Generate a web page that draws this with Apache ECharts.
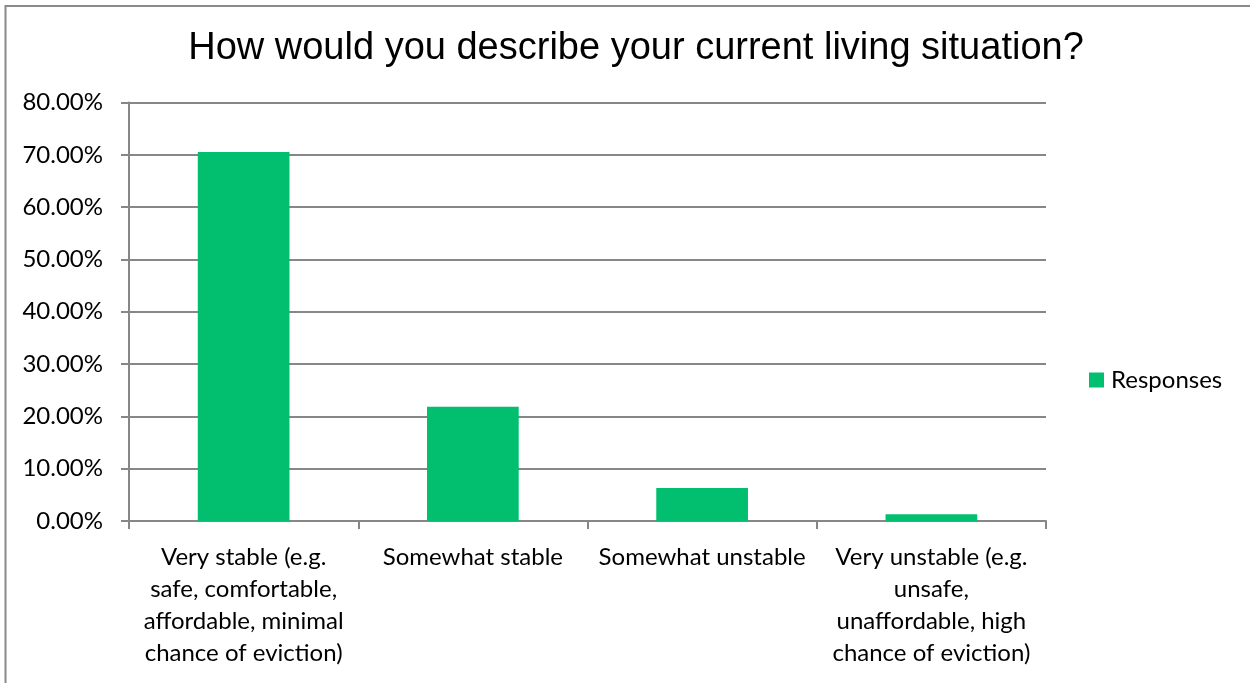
<!DOCTYPE html>
<html>
<head>
<meta charset="utf-8">
<script src="https://cdn.jsdelivr.net/npm/echarts@6/dist/echarts.min.js"></script>
<style>
  html, body { margin: 0; padding: 0; background: #fff; }
  #chart { width: 1250px; height: 683px; }
</style>
</head>
<body>
<div id="chart"></div>
<script>
// Survey answers, one bar per answer option
const categories = [
  'Very stable (e.g.\nsafe, comfortable,\naffordable, minimal\nchance of eviction)',
  'Somewhat stable',
  'Somewhat unstable',
  'Very unstable (e.g.\nunsafe,\nunaffordable, high\nchance of eviction)'
];
const responses = [70.55, 21.85, 6.3, 1.3];
const seriesName = 'Responses';
const titleText = 'How would you describe your current living situation?';

const gridColor = '#878787';
const barColor = '#02BF6F';
const labelFont = 'Lato, "Open Sans", sans-serif';

const chart = echarts.init(document.getElementById('chart'), null, { renderer: 'canvas' });
chart.setOption({
  animation: false,
  backgroundColor: '#ffffff',
  graphic: [{
    type: 'rect',
    shape: { x: 5.5, y: 6, width: 1400, height: 1000 },
    style: { fill: 'none', stroke: '#8a8a8a', lineWidth: 2 },
    silent: true,
    z: -1
  }],
  title: {
    text: titleText,
    left: 636,
    textAlign: 'center',
    top: 30,
    padding: 0,
    textStyle: {
      fontFamily: '"Liberation Sans", Arial, sans-serif',
      fontSize: 38,
      fontWeight: 'normal',
      color: '#000'
    }
  },
  legend: {
    data: [seriesName],
    left: 1089,
    top: 368,
    padding: 0,
    itemWidth: 15,
    itemHeight: 15,
    itemGap: 7,
    icon: 'rect',
    textStyle: { fontFamily: labelFont, fontSize: 24, color: '#000', padding: [0, 0, 0, 2] }
  },
  grid: { left: 129, right: 204, top: 102.5, bottom: 162, containLabel: false },
  xAxis: {
    type: 'category',
    data: categories,
    axisLine: { show: true, lineStyle: { color: gridColor, width: 2 } },
    axisTick: { show: true, length: 8, lineStyle: { color: gridColor, width: 2 } },
    axisLabel: {
      interval: 0,
      margin: 20,
      fontFamily: labelFont,
      fontSize: 24,
      lineHeight: 32,
      color: '#000',
      align: 'center'
    }
  },
  yAxis: {
    type: 'value',
    min: 0,
    max: 80,
    interval: 10,
    axisLine: { show: true, lineStyle: { color: gridColor, width: 2 } },
    axisTick: { show: true, length: 8, lineStyle: { color: gridColor, width: 2 } },
    splitLine: { show: true, lineStyle: { color: gridColor, width: 2 } },
    axisLabel: {
      margin: 26,
      fontFamily: labelFont,
      fontSize: 24,
      color: '#000',
      formatter: v => v.toFixed(2) + '%'
    }
  },
  series: [{
    name: seriesName,
    type: 'bar',
    data: responses,
    barWidth: '40%',
    itemStyle: { color: barColor }
  }]
});
</script>
</body>
</html>
